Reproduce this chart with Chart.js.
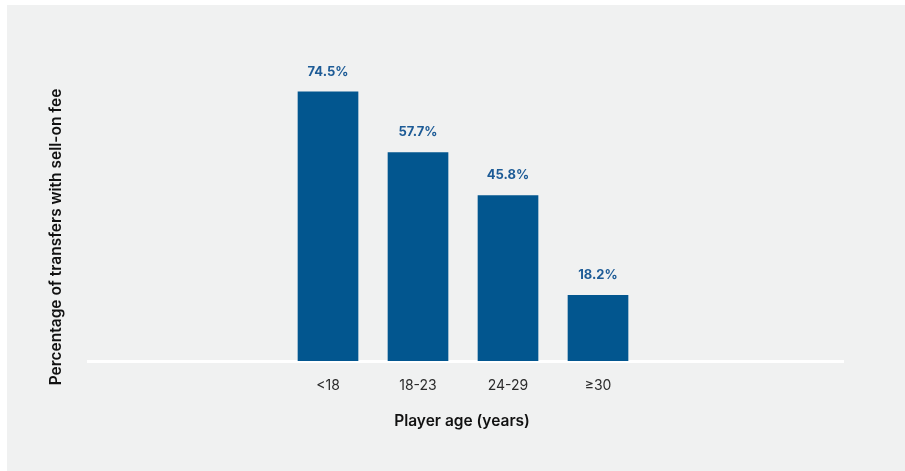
<!DOCTYPE html>
<html>
<head>
<meta charset="utf-8">
<script src="https://cdn.jsdelivr.net/npm/chart.js@4"></script>
<style>
  html, body { margin: 0; padding: 0; background: #fff; }
  #wrap { position: absolute; left: 7px; top: 5px; width: 898px; height: 466px; background: #f0f1f1; }
</style>
</head>
<body>
<div id="wrap"><canvas id="chart" width="898" height="466"></canvas></div>
<script>
// chart data
const categories = ['<18', '18-23', '24-29', '\u226530'];
const shareWithSellOn = [74.5, 57.7, 45.8, 18.2];
const xTitle = 'Player age (years)';
const yTitle = 'Percentage of transfers with sell-on fee';

const barColor = '#02568f';
const FONT = 'Inter, "Open Sans", sans-serif';

// value labels above each bar + axis titles
const labelsPlugin = {
    id: 'labels',
    afterDatasetsDraw(chart) {
        const ctx = chart.ctx;
        const meta = chart.getDatasetMeta(0);
        ctx.save();
        ctx.font = 'bold 13px ' + FONT;
        ctx.fillStyle = '#1d5b96';
        ctx.textAlign = 'center';
        ctx.textBaseline = 'middle';
        meta.data.forEach((bar, i) => {
            ctx.fillText(shareWithSellOn[i].toFixed(1) + '%', bar.x, bar.y - 20);
        });

        ctx.fillStyle = '#111';
        ctx.font = '600 15.5px ' + FONT;
        ctx.fillText(xTitle, 455, 416);
        ctx.translate(49, 232);
        ctx.rotate(-Math.PI / 2);
        ctx.fillText(yTitle, 0, 0);
        ctx.restore();
    }
};

new Chart(document.getElementById('chart'), {
    type: 'bar',
    data: {
        datasets: [{
            data: categories.map((c, i) => ({ x: i + 1, y: shareWithSellOn[i] })),
            backgroundColor: barColor,
            barThickness: 60
        }]
    },
    options: {
        responsive: false,
        animation: false,
        layout: { padding: { left: 81, right: 62, top: 67, bottom: 50 } },
        plugins: { legend: { display: false }, tooltip: { enabled: false } },
        scales: {
            x: {
                type: 'linear',
                offset: false,
                min: -1.6667,
                max: 6.7222,
                grid: { display: false, drawTicks: false },
                border: { display: true, color: '#ffffff', width: 3 },
                afterFit(scale) { scale.height = 60; },
                ticks: {
                    stepSize: 1,
                    autoSkip: false,
                    maxRotation: 0,
                    padding: 16,
                    color: '#2b2b2b',
                    font: { family: FONT, size: 14 },
                    callback: (v) => (Number.isInteger(v) && v >= 1 && v <= categories.length) ? categories[v - 1] : ''
                }
            },
            y: {
                display: false,
                min: 0,
                max: 80
            }
        }
    },
    plugins: [labelsPlugin]
});
</script>
</body>
</html>
